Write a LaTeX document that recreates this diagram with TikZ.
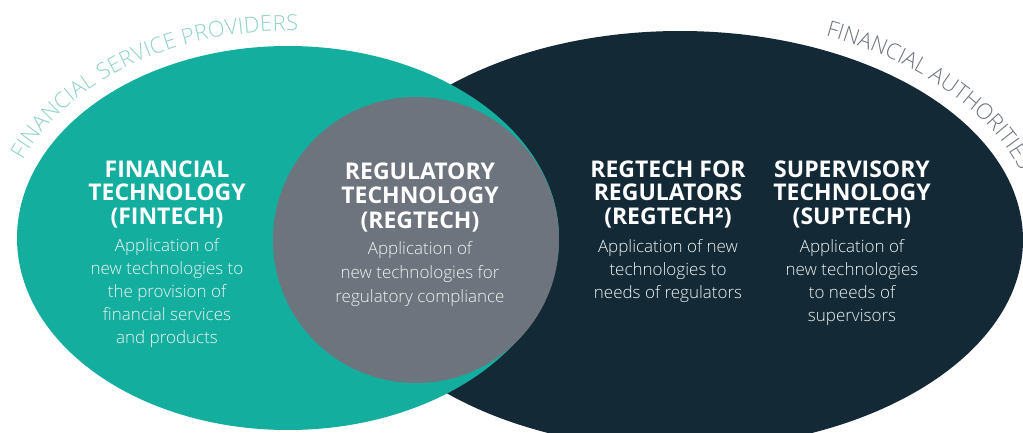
\documentclass[tikz,border=0pt]{standalone}
\usepackage{fontspec}
\setmainfont{Open Sans}
\newfontfamily\lightfont{Open Sans Light}
\usetikzlibrary{decorations.text}
\definecolor{tealc}{HTML}{14AE9F}
\definecolor{darkc}{HTML}{132A36}
\definecolor{grayc}{HTML}{6E747D}
\definecolor{tealtxt}{HTML}{8ED2C9}
\definecolor{graytxt}{HTML}{6E7480}
\definecolor{bodytxt}{HTML}{EEF3F3}
\tikzset{
  hdr/.style={font=\fontsize{23}{23.5}\selectfont\bfseries, text=white, align=center, anchor=north, inner sep=0pt},
  bdy/.style={font=\lightfont\fontsize{17}{23}\selectfont, text=bodytxt, align=center, anchor=north, inner sep=0pt},
  arctext/.style={decorate, decoration={text along path, text color=#1}},
}
\begin{document}
\begin{tikzpicture}[x=1pt,y=1pt]
\useasboundingbox (0,0) rectangle (1023,-433);
\clip (0,0) rectangle (1023,-433);
% shapes
\fill[darkc] (680,-240) ellipse [x radius=343, y radius=209];
\fill[tealc] (288,-238) ellipse [x radius=271, y radius=192];
\fill[grayc] (416,-240) circle [radius=143];
% curved labels
\path[arctext=tealtxt, decoration={text align=fit to path, text={|\lightfont\fontsize{22}{22}\selectfont|FINANCIAL SERVICE PROVIDERS}}]
  ([shift={(158:286 and 207)}]288,-238) arc[start angle=158, end angle=88, x radius=286, y radius=207];
\path[arctext=graytxt, decoration={text align=left, text={|\lightfont\fontsize{22}{22}\selectfont|FINANCIAL AUTHORITIES}}]
  ([shift={(66:358 and 224)}]680,-240) arc[start angle=66, end angle=-5, x radius=358, y radius=224];
% fintech
\node[hdr] (finh) at (167,-160.5) {FINANCIAL\\TECHNOLOGY\\(FINTECH)};
\node[bdy] (finb) at (167,-238) {Application of\\new technologies to\\the provision of\\financial services\\and products};
% regtech
\node[hdr, font=\fontsize{23}{24.5}\selectfont\bfseries] (regh) at (420,-162.5) {REGULATORY\\TECHNOLOGY\\(REGTECH)};
\node[bdy, font=\lightfont\fontsize{17}{24}\selectfont] (regb) at (420,-241) {Application of\\new technologies for\\regulatory compliance};
% regtech for regulators
\node[hdr] (rfrh) at (668,-160.5) {REGTECH FOR\\REGULATORS\\(REGTECH²)};
\node[bdy] (rfrb) at (668,-239) {Application of new\\technologies to\\needs of regulators};
% suptech
\node[hdr] (suph) at (852,-160.5) {SUPERVISORY\\TECHNOLOGY\\(SUPTECH)};
\node[bdy] (supb) at (852,-239) {Application of\\new technologies\\to needs of\\supervisors};
\end{tikzpicture}
\end{document}
